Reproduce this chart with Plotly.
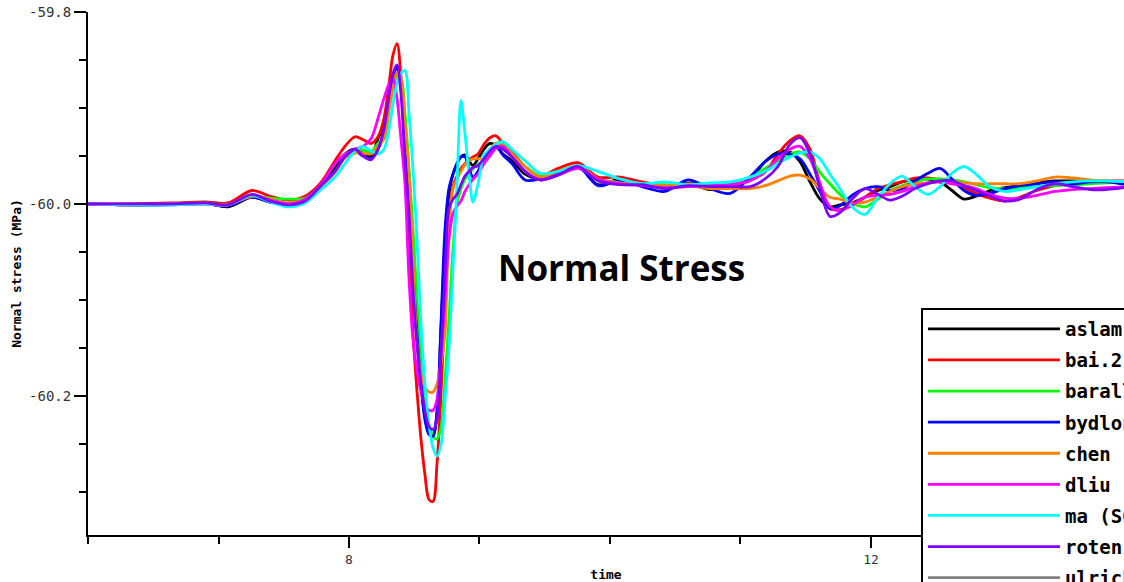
import plotly.graph_objects as go

# Sample times (s) shared by every solution
time = [6.000, 6.322, 6.628, 6.897, 7.073, 7.257, 7.395, 7.533, 7.663, 7.778,
        7.893, 7.969, 8.046, 8.107, 8.169, 8.222, 8.268, 8.307, 8.337, 8.368,
        8.398, 8.429, 8.460, 8.490, 8.521, 8.552, 8.582, 8.613, 8.644, 8.674,
        8.705, 8.736, 8.766, 8.797, 8.828, 8.858, 8.889, 8.920, 8.950, 8.989,
        9.034, 9.080, 9.126, 9.180, 9.249, 9.349, 9.464, 9.602, 9.755, 9.908,
        10.077, 10.245, 10.421, 10.598, 10.766, 10.920, 11.073, 11.188, 11.287, 11.379,
        11.456, 11.533, 11.609, 11.686, 11.762, 11.854, 11.954, 12.054, 12.146, 12.238,
        12.337, 12.437, 12.529, 12.621, 12.713, 12.805, 12.912, 13.027, 13.142, 13.272,
        13.410, 13.548, 13.678, 13.808, 14.000]

# Normal stress (MPa) for each code
aslam = [-60.000, -60.001, -60.000, -59.999, -60.003, -59.993, -59.998, -60.000, -59.994, -59.981,
         -59.963, -59.948, -59.943, -59.947, -59.950, -59.932, -59.919, -59.890, -59.867, -59.857,
         -59.878, -59.937, -59.995, -60.068, -60.136, -60.188, -60.222, -60.239, -60.242, -60.219,
         -60.131, -60.042, -59.990, -59.969, -59.958, -59.951, -59.949, -59.955, -59.960, -59.953,
         -59.943, -59.937, -59.939, -59.948, -59.955, -59.969, -59.974, -59.968, -59.961, -59.980,
         -59.974, -59.979, -59.982, -59.979, -59.985, -59.982, -59.974, -59.956, -59.946, -59.946,
         -59.956, -59.977, -59.995, -60.003, -60.001, -59.999, -59.993, -59.986, -59.982, -59.977,
         -59.975, -59.974, -59.977, -59.986, -59.995, -59.992, -59.986, -59.983, -59.981, -59.978,
         -59.976, -59.976, -59.976, -59.977, -59.979]

bai2 = [-60.000, -60.000, -59.999, -59.998, -59.999, -59.986, -59.992, -59.996, -59.992, -59.979,
        -59.955, -59.940, -59.930, -59.933, -59.937, -59.930, -59.911, -59.875, -59.845, -59.833,
        -59.867, -59.948, -60.041, -60.134, -60.195, -60.245, -60.282, -60.308, -60.310, -60.272,
        -60.198, -60.104, -60.016, -59.982, -59.971, -59.963, -59.958, -59.954, -59.951, -59.948,
        -59.938, -59.931, -59.929, -59.937, -59.946, -59.961, -59.971, -59.963, -59.957, -59.972,
        -59.972, -59.977, -59.981, -59.978, -59.980, -59.981, -59.975, -59.967, -59.948, -59.934,
        -59.929, -59.943, -59.979, -60.005, -60.006, -60.002, -59.993, -59.984, -59.980, -59.977,
        -59.973, -59.973, -59.975, -59.978, -59.983, -59.989, -59.994, -59.997, -59.993, -59.986,
        -59.981, -59.978, -59.977, -59.976, -59.976]

barall = [-60.000, -60.001, -60.000, -59.999, -60.001, -59.992, -59.994, -59.995, -59.994, -59.982,
          -59.966, -59.951, -59.945, -59.944, -59.946, -59.937, -59.932, -59.901, -59.880, -59.867,
          -59.869, -59.906, -59.963, -60.026, -60.099, -60.162, -60.204, -60.230, -60.242, -60.245,
          -60.233, -60.183, -60.120, -60.047, -60.000, -59.984, -59.974, -59.969, -59.963, -59.959,
          -59.955, -59.945, -59.937, -59.937, -59.948, -59.961, -59.971, -59.966, -59.961, -59.974,
          -59.977, -59.979, -59.980, -59.980, -59.979, -59.978, -59.972, -59.963, -59.955, -59.948,
          -59.946, -59.953, -59.967, -59.979, -59.990, -59.999, -60.003, -59.995, -59.986, -59.981,
          -59.977, -59.974, -59.974, -59.975, -59.977, -59.980, -59.983, -59.984, -59.983, -59.982,
          -59.981, -59.980, -59.979, -59.978, -59.977]

bydlon = [-60.000, -60.001, -60.001, -60.000, -60.002, -59.993, -59.998, -60.001, -59.995, -59.982,
          -59.966, -59.951, -59.945, -59.950, -59.953, -59.943, -59.927, -59.893, -59.869, -59.857,
          -59.877, -59.937, -59.995, -60.068, -60.136, -60.188, -60.225, -60.240, -60.242, -60.217,
          -60.125, -60.026, -59.984, -59.969, -59.958, -59.951, -59.951, -59.963, -59.972, -59.966,
          -59.951, -59.943, -59.940, -59.949, -59.958, -59.975, -59.974, -59.969, -59.961, -59.981,
          -59.976, -59.982, -59.987, -59.975, -59.984, -59.989, -59.972, -59.956, -59.948, -59.948,
          -59.953, -59.969, -59.987, -60.005, -60.002, -59.991, -59.984, -59.982, -59.986, -59.984,
          -59.976, -59.968, -59.963, -59.974, -59.986, -59.991, -59.989, -59.984, -59.981, -59.979,
          -59.977, -59.979, -59.977, -59.977, -59.981]

chen = [-60.000, -60.001, -60.000, -60.000, -60.001, -59.992, -59.995, -59.999, -59.995, -59.983,
        -59.967, -59.952, -59.947, -59.947, -59.948, -59.940, -59.932, -59.901, -59.878, -59.863,
        -59.869, -59.916, -59.969, -60.057, -60.146, -60.178, -60.191, -60.196, -60.196, -60.188,
        -60.167, -60.134, -60.024, -59.984, -59.974, -59.966, -59.959, -59.955, -59.953, -59.953,
        -59.951, -59.943, -59.937, -59.939, -59.948, -59.961, -59.972, -59.966, -59.960, -59.974,
        -59.978, -59.980, -59.981, -59.981, -59.984, -59.984, -59.984, -59.981, -59.976, -59.971,
        -59.970, -59.974, -59.984, -59.993, -59.995, -59.999, -59.998, -59.993, -59.987, -59.982,
        -59.979, -59.978, -59.977, -59.977, -59.978, -59.979, -59.979, -59.979, -59.979, -59.976,
        -59.972, -59.973, -59.975, -59.976, -59.977]

dliu = [-60.000, -60.001, -60.000, -60.000, -60.001, -59.991, -59.996, -60.000, -59.995, -59.981,
        -59.958, -59.948, -59.943, -59.940, -59.932, -59.911, -59.890, -59.875, -59.869, -59.890,
        -59.932, -59.979, -60.078, -60.141, -60.174, -60.196, -60.209, -60.215, -60.215, -60.204,
        -60.157, -60.099, -60.037, -60.010, -60.002, -59.997, -59.987, -59.980, -59.974, -59.969,
        -59.958, -59.950, -59.942, -59.940, -59.951, -59.966, -59.975, -59.970, -59.963, -59.974,
        -59.979, -59.981, -59.983, -59.982, -59.981, -59.980, -59.976, -59.966, -59.953, -59.943,
        -59.940, -59.953, -59.979, -60.003, -60.007, -60.001, -59.993, -59.991, -59.990, -59.987,
        -59.982, -59.978, -59.977, -59.979, -59.981, -59.984, -59.990, -59.994, -59.994, -59.991,
        -59.987, -59.985, -59.984, -59.983, -59.982]

ma = [-60.000, -60.001, -60.001, -60.000, -60.001, -59.991, -59.998, -60.003, -59.999, -59.986,
      -59.972, -59.958, -59.945, -59.940, -59.945, -59.948, -59.943, -59.922, -59.896, -59.875,
      -59.864, -59.861, -59.906, -59.963, -60.037, -60.125, -60.188, -60.230, -60.254, -60.263,
      -60.251, -60.204, -60.151, -60.068, -59.979, -59.892, -59.927, -59.969, -59.998, -59.979,
      -59.949, -59.943, -59.938, -59.935, -59.943, -59.955, -59.968, -59.966, -59.960, -59.966,
      -59.974, -59.979, -59.977, -59.980, -59.978, -59.977, -59.972, -59.966, -59.958, -59.951,
      -59.947, -59.946, -59.953, -59.969, -59.984, -60.003, -60.011, -59.993, -59.979, -59.971,
      -59.982, -59.990, -59.982, -59.968, -59.961, -59.969, -59.982, -59.987, -59.985, -59.982,
      -59.979, -59.977, -59.976, -59.976, -59.977]

roten = [-60.000, -60.000, -60.000, -59.999, -60.001, -59.990, -59.997, -60.001, -59.997, -59.982,
         -59.966, -59.951, -59.943, -59.950, -59.954, -59.943, -59.922, -59.887, -59.864, -59.855,
         -59.885, -59.953, -60.010, -60.089, -60.146, -60.188, -60.216, -60.232, -60.235, -60.225,
         -60.157, -60.073, -60.005, -59.995, -59.990, -59.980, -59.971, -59.966, -59.962, -59.960,
         -59.953, -59.945, -59.940, -59.943, -59.951, -59.966, -59.975, -59.970, -59.961, -59.976,
         -59.980, -59.980, -59.984, -59.981, -59.982, -59.982, -59.982, -59.974, -59.961, -59.938,
         -59.931, -59.948, -59.984, -60.013, -60.009, -59.995, -59.984, -59.990, -59.996, -59.992,
         -59.984, -59.979, -59.976, -59.976, -59.981, -59.986, -59.992, -59.997, -59.995, -59.985,
         -59.979, -59.982, -59.985, -59.985, -59.982]

codes = ["aslam", "bai.2", "barall", "bydlon", "chen", "dliu", "ma (SGFD)", "roten", "ulrich"]
colors = ["#000000", "#ff0000", "#00ff00", "#0000ff", "#ff8000",
          "#ff00ff", "#00ffff", "#8000ff", "#808080"]
values = [aslam, bai2, barall, bydlon, chen, dliu, ma, roten, None]

x_tick_vals = [8, 12]
x_tick_text = ["8", "12"]
y_tick_vals = [-59.8, -60.0, -60.2]
y_tick_text = ["-59.8", "-60.0", "-60.2"]

fig = go.Figure()
for name, color, vals in zip(codes, colors, values):
    if vals is None:
        # no samples in this window: legend entry only
        xs, ys = [None], [None]
    else:
        xs, ys = time, vals
    fig.add_trace(go.Scatter(
        x=xs, y=ys, name=name, mode="lines", legendgroup=name,
        line=dict(color=color, width=2.8, shape="spline", smoothing=0.9),
    ))

mono = "DejaVu Sans Mono"
fig.update_layout(
    width=1124, height=582,
    margin=dict(l=88, r=0, t=12, b=47, autoexpand=False),
    paper_bgcolor="white", plot_bgcolor="white",
    showlegend=True,
    legend=dict(
        x=0.804, y=0.434, xanchor="left", yanchor="top",
        bgcolor="white", bordercolor="black", borderwidth=2,
        font=dict(family=mono, size=19, color="black", weight="bold"),
        itemwidth=132, tracegroupgap=3.4, traceorder="grouped",
    ),
    annotations=[dict(
        text="<b>Normal Stress</b>", xref="paper", yref="paper",
        x=0.5154, y=0.5124, xanchor="center", yanchor="middle", showarrow=False,
        font=dict(family="Open Sans", size=35, color="black"),
    )],
)

fig.update_xaxes(
    range=[6, 13.939],
    tickmode="array", tickvals=x_tick_vals, ticktext=x_tick_text,
    ticks="outside", ticklen=11, tickwidth=2, tickcolor="black",
    tickfont=dict(family=mono, size=13, color="#333333"),
    showline=True, linecolor="black", linewidth=2,
    showgrid=False, zeroline=False,
    minor=dict(tickmode="linear", tick0=0, dtick=1, ticks="outside",
               ticklen=7, tickwidth=2, tickcolor="black", showgrid=False),
    title=dict(text="<b>time</b>", standoff=6,
               font=dict(family=mono, size=13, color="black")),
)
fig.update_yaxes(
    range=[-60.345, -59.8],
    tickmode="array", tickvals=y_tick_vals, ticktext=y_tick_text,
    ticks="outside", ticklen=12, tickwidth=2, tickcolor="black",
    tickfont=dict(family=mono, size=14, color="#333333"),
    showline=True, linecolor="black", linewidth=2,
    showgrid=False, zeroline=False,
    minor=dict(tickmode="linear", tick0=-60, dtick=0.05, ticks="outside",
               ticklen=7, tickwidth=2, tickcolor="black", showgrid=False),
    title=dict(text="<b>Normal stress (MPa)</b>", standoff=4,
               font=dict(family=mono, size=13, color="black")),
)

fig.write_html("out.html")
